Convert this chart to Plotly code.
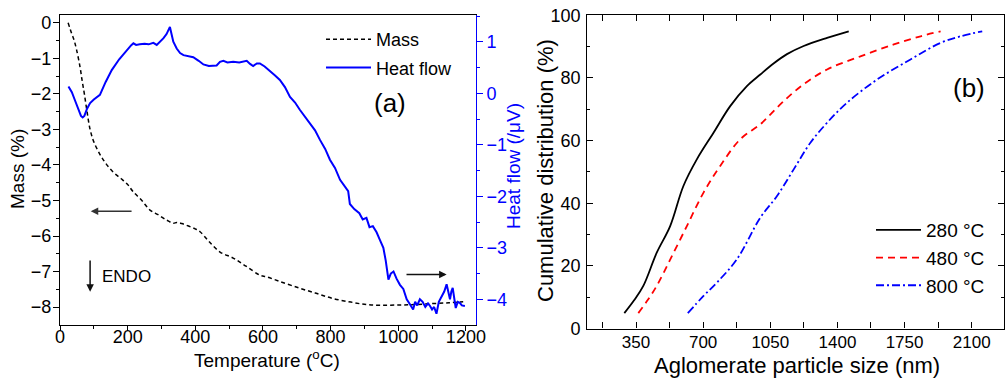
import plotly.graph_objects as go

# ---------------- data: panel (a) ----------------
mass_T = [24, 34, 42, 49, 59, 65, 72, 80, 89, 100, 118, 135, 157, 180, 200, 216, 242, 266, 290, 315,
          335, 345, 360, 380, 400, 414, 440, 473, 512, 550, 591, 611, 650, 709, 760, 808, 860, 906,
          950, 1005, 1050, 1103, 1150, 1192]
mass_val = [0.0, -0.29, -0.5, -0.76, -1.23, -1.6, -2.0, -2.5, -3.0, -3.35, -3.7, -3.95, -4.2, -4.38,
            -4.55, -4.75, -5.0, -5.27, -5.4, -5.55, -5.64, -5.62, -5.65, -5.72, -5.8, -5.88, -6.15,
            -6.45, -6.62, -6.85, -7.1, -7.15, -7.28, -7.47, -7.62, -7.76, -7.86, -7.93, -7.95, -7.94,
            -7.93, -7.9, -7.88, -7.85]

hf_T = [25, 35, 45, 55, 62, 67, 72, 80, 89, 100, 118, 135, 153, 175, 197, 210, 217, 225, 236, 250,
        262, 276, 286, 296, 306, 315, 322, 325, 328, 335, 345, 355, 365, 380, 394, 410, 424, 440,
        455, 463, 473, 483, 495, 512, 530, 552, 562, 571, 582, 591, 605, 621, 635, 650, 665, 680,
        695, 709, 724, 739, 754, 769, 784, 798, 813, 828, 840, 847, 852, 857, 870, 885, 895, 906,
        915, 925, 936, 946, 956, 963, 971, 978, 986, 995, 1005, 1015, 1025, 1035, 1044, 1050, 1056,
        1064, 1072, 1080, 1088, 1094, 1100, 1106, 1113, 1120, 1128, 1136, 1143, 1148, 1153, 1157,
        1161, 1166, 1170, 1176, 1182, 1188, 1197]
hf_val = [0.13, 0.02, -0.15, -0.33, -0.44, -0.47, -0.44, -0.30, -0.19, -0.12, -0.03, 0.22, 0.45,
          0.66, 0.84, 0.93, 0.97, 0.94, 0.95, 0.96, 0.95, 0.98, 0.94, 1.00, 1.07, 1.15, 1.25, 1.29,
          1.20, 1.00, 0.87, 0.78, 0.74, 0.72, 0.70, 0.63, 0.56, 0.53, 0.53, 0.54, 0.61, 0.63, 0.60,
          0.61, 0.60, 0.63, 0.57, 0.53, 0.58, 0.58, 0.52, 0.42, 0.35, 0.26, 0.12, -0.07, -0.18,
          -0.32, -0.45, -0.58, -0.72, -0.91, -1.08, -1.29, -1.45, -1.68, -1.80, -1.87, -1.90, -2.15,
          -2.25, -2.33, -2.45, -2.42, -2.60, -2.58, -2.70, -2.85, -3.00, -3.25, -3.62, -3.50, -3.46,
          -3.60, -3.72, -3.80, -4.00, -4.10, -4.20, -4.05, -4.12, -4.00, -4.05, -4.15, -4.08, -4.13,
          -4.20, -4.15, -4.28, -4.05, -3.94, -3.85, -3.71, -3.85, -4.00, -3.85, -3.78, -4.00, -4.17,
          -4.05, -4.07, -4.12, -4.13]

# ---------------- data: panel (b) ----------------
size_280 = [289, 340, 388, 458, 528, 597, 667, 754, 841, 928, 998, 1067, 1137, 1224, 1346, 1459]
cum_280 = [4.9, 9.0, 13.6, 24.2, 32.7, 45.5, 54.0, 62.5, 71.0, 77.4, 81.1, 84.6, 87.6, 90.2, 92.8, 94.9]

size_480 = [362, 410, 458, 528, 615, 702, 789, 893, 998, 1050, 1120, 1224, 1346, 1520, 1694, 1834, 1938]
cum_480 = [4.9, 9.0, 13.6, 22.0, 32.7, 43.4, 51.9, 60.4, 65.2, 68.3, 72.6, 78.0, 82.7, 86.9, 90.7, 93.3, 94.9]

size_800 = [620, 702, 772, 876, 998, 1085, 1172, 1259, 1346, 1450, 1607, 1781, 1938, 2042, 2155]
cum_800 = [4.9, 10.4, 14.7, 22.1, 35.4, 42.3, 50.8, 59.3, 65.7, 72.1, 79.5, 85.9, 91.2, 93.3, 94.9]

FONT = "Liberation Sans, Arial, sans-serif"
BLUE = "#0000FF"
RED = "#FF0000"

fig = go.Figure()

fig.add_trace(go.Scatter(x=mass_T, y=mass_val, name="Mass", mode="lines", xaxis="x", yaxis="y",
                         line=dict(color="black", width=1.5, dash="4px,3px", shape="spline"),
                         legend="legend", legendgroup="m"))
fig.add_trace(go.Scatter(x=hf_T, y=hf_val, name="Heat flow", mode="lines", xaxis="x", yaxis="y2",
                         line=dict(color=BLUE, width=2), legend="legend", legendgroup="h"))

fig.add_trace(go.Scatter(x=size_280, y=cum_280, name="280 °C", mode="lines", xaxis="x2", yaxis="y3",
                         line=dict(color="black", width=1.8, shape="spline"), legend="legend2"))
fig.add_trace(go.Scatter(x=size_480, y=cum_480, name="480 °C", mode="lines", xaxis="x2", yaxis="y3",
                         line=dict(color=RED, width=1.8, dash="7px,5px", shape="spline"), legend="legend2"))
fig.add_trace(go.Scatter(x=size_800, y=cum_800, name="800 °C", mode="lines", xaxis="x2", yaxis="y3",
                         line=dict(color=BLUE, width=1.8, dash="8px,3px,2px,3px", shape="spline"),
                         legend="legend2"))

W, H = 1006, 380
ax_common = dict(showgrid=False, zeroline=False, showline=True, linewidth=1.2, automargin=False)

fig.update_layout(
    width=W, height=H,
    margin=dict(l=0, r=0, t=0, b=0, autoexpand=False),
    paper_bgcolor="white", plot_bgcolor="white",
    font=dict(family=FONT, color="black", size=17),
    xaxis=dict(**ax_common, domain=[60 / W, 475.7 / W], range=[0, 1229], anchor="y",
               linecolor="black", mirror=True, ticks="outside", ticklen=5, tickcolor="black",
               tickvals=[0, 200, 400, 600, 800, 1000, 1200],
               minor=dict(dtick=100, ticks="outside", ticklen=3, tickcolor="black"),
               tickfont=dict(size=18), ticklabelstandoff=-9),
    yaxis=dict(**ax_common, domain=[1 - 324.5 / H, 1 - 15 / H], range=[-8.49, 0.22], anchor="x",
               linecolor="black", ticks="outside", ticklen=6, tickcolor="black",
               tickvals=[0, -1, -2, -3, -4, -5, -6, -7, -8],
               minor=dict(dtick=0.5, ticks="outside", ticklen=3, tickcolor="black"),
               tickfont=dict(size=18), ticklabelstandoff=-2),
    yaxis2=dict(**ax_common, overlaying="y", side="right", anchor="x", range=[-4.49, 1.52],
                linecolor=BLUE, ticks="outside", ticklen=6, tickcolor=BLUE,
                tickvals=[1, 0, -1, -2, -3, -4], tickfont=dict(size=18, color=BLUE),
                minor=dict(dtick=0.5, ticks="outside", ticklen=3, tickcolor=BLUE)),
    xaxis2=dict(**ax_common, domain=[587.3 / W, 1004.3 / W], range=[96, 2270], anchor="y3",
                linecolor="black", mirror="allticks", ticks="inside", ticklen=6, tickcolor="black",
                tickvals=[350, 700, 1050, 1400, 1750, 2100],
                minor=dict(dtick=175, tick0=0, ticks="inside", ticklen=6, tickcolor="black"),
                tickfont=dict(size=17), ticklabelstandoff=-2),
    yaxis3=dict(**ax_common, domain=[1 - 328.5 / H, 1 - 15.3 / H], range=[0, 100], anchor="x2",
                linecolor="black", mirror="allticks", ticks="inside", ticklen=6, tickcolor="black",
                tickvals=[0, 20, 40, 60, 80, 100],
                minor=dict(dtick=10, ticks="inside", ticklen=3, tickcolor="black"),
                tickfont=dict(size=18), ticklabelstandoff=2),
    legend=dict(x=321 / W, y=1 - 21 / H, xanchor="left", yanchor="top", bgcolor="rgba(0,0,0,0)",
                font=dict(size=18), itemwidth=45, tracegroupgap=2),
    legend2=dict(x=871 / W, y=1 - 211 / H, xanchor="left", yanchor="top", bgcolor="rgba(0,0,0,0)",
                 font=dict(size=19), itemwidth=45),
    showlegend=True,
)

C = dict(xref="paper", yref="paper", xanchor="center", yanchor="middle", showarrow=False)
ann = [
    # axis titles
    dict(text="Mass (%)", x=18 / W, y=1 - 169 / H, textangle=-90, font=dict(size=19), **C),
    dict(text="Temperature (<sup>o</sup>C)", x=267 / W, y=1 - 359 / H, font=dict(size=19), **C),
    dict(text="Heat flow (/μV)", x=513 / W, y=1 - 166 / H, textangle=-90,
         font=dict(size=19, color=BLUE), **C),
    dict(text="Cumulative distribution (%)", x=546 / W, y=1 - 171 / H, textangle=-90,
         font=dict(size=22), **C),
    dict(text="Aglomerate particle size (nm)", x=797 / W, y=1 - 365 / H, font=dict(size=22), **C),
    # panel labels
    dict(text="(a)", x=390 / W, y=1 - 103 / H, font=dict(size=26), **C),
    dict(text="(b)", x=969 / W, y=1 - 87.5 / H, font=dict(size=26), **C),
    dict(text="ENDO", x=118, y=-7.15, xref="x", yref="y", xanchor="left", yanchor="middle",
         showarrow=False, font=dict(size=17)),
    # arrows
    dict(text="", x=91, y=-5.3, ax=216, ay=-5.3, xref="x", yref="y", axref="x", ayref="y",
         showarrow=True, arrowhead=2, arrowsize=1, arrowwidth=1.5, arrowcolor="#333"),
    dict(text="", x=89, y=-7.57, ax=89, ay=-6.65, xref="x", yref="y", axref="x", ayref="y",
         showarrow=True, arrowhead=2, arrowsize=1, arrowwidth=1.5, arrowcolor="#111"),
    dict(text="", x=1143, y=-3.52, ax=1020, ay=-3.52, xref="x", yref="y2", axref="x", ayref="y2",
         showarrow=True, arrowhead=2, arrowsize=1, arrowwidth=1.5, arrowcolor="#111"),
]
fig.update_layout(annotations=ann)

fig.write_html("out.html")
